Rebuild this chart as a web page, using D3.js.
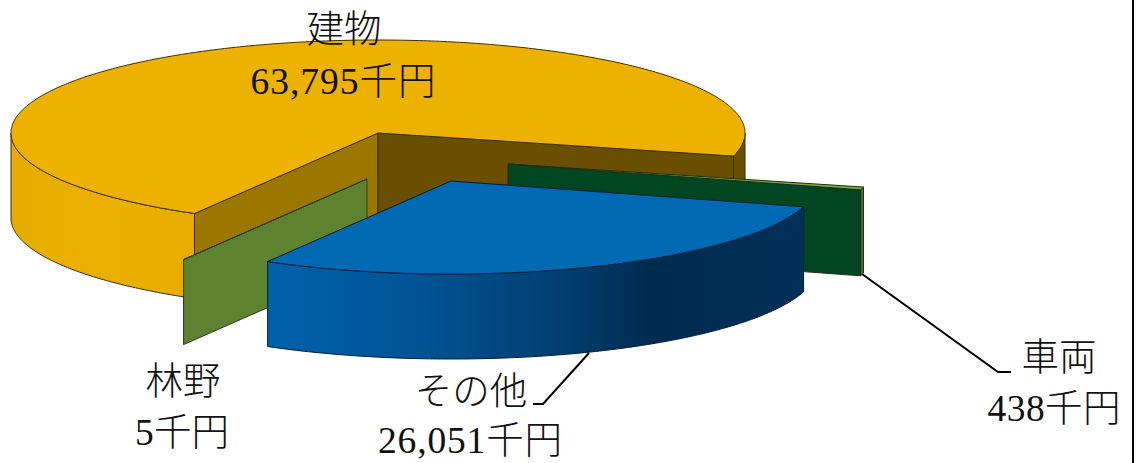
<!DOCTYPE html>
<html lang="ja">
<head>
<meta charset="utf-8">
<script src="https://cdn.jsdelivr.net/npm/d3@7"></script>
<style>
  html, body { margin: 0; padding: 0; background: #fff; }
  svg { display: block; }
  text { font-family: "Liberation Serif", "Noto Sans CJK JP", serif; font-size: 37.5px; font-weight: 300; fill: #111; }
</style>
</head>
<body>
<svg id="chart" width="1140" height="463"></svg>
<script>
// Values in 千円
const categories = ["建物", "車両", "その他", "林野"];
const values = [63795, 438, 26051, 5];
const valueLabels = ["63,795千円", "438千円", "26,051千円", "5千円"];

// Ellipse that the flat pie projects onto
const cx = 378, cy = 133, rx = 367, ry = 93;
const firstSliceAngle = 210;

// Per-slice drawing settings, in category order
const sliceOffset = [[0, 0], [130, 31], [73, 48], [-11, 46]];
const sliceDepth = [85, 86, 85, 85];
const topFill = ["#edb100", "#72ad47", "#0069b4", "#5d8330"];
const startFace = ["#9c7700", "#004620", "#00355f", "#5d8330"];
const endFace = ["#6a4f00", "#004620", "#00355f", "#5d8330"];
const edgeStroke = ["#3d2e00", "#1f2f14", "#001f3a", "#2c3e18"];
const rimFill = ["url(#rimGold)", "#566f3c", "url(#rimBlue)", "#5d8330"];
const drawOrder = [0, 1, 3, 2];

const labelPlacement = [
  { name: [344, 33], value: [343, 85], width: 185 },
  { name: [1059, 361], value: [1054, 412], width: 133 },
  { name: [471, 395], value: [470, 444], width: 184 },
  { name: [183, 385], value: [182, 436], width: 94 }
];
const leaderLines = [
  [[862, 274], [998, 372], [1011, 372]],
  [[589, 353], [543, 404], [533, 404]]
];

const svg = d3.select("#chart");
const defs = svg.append("defs");

function addRimGradient(id, x1, x2, stops) {
  const g = defs.append("linearGradient")
    .attr("id", id).attr("gradientUnits", "userSpaceOnUse")
    .attr("x1", x1).attr("x2", x2).attr("y1", 0).attr("y2", 0);
  stops.forEach(([o, c]) => g.append("stop").attr("offset", o).attr("stop-color", c));
}
addRimGradient("rimGold", 11, 745, [
  [0, "#e5ab00"], [0.1, "#ebb000"], [0.24, "#e7ad00"], [0.3, "#e0a700"],
  [0.97, "#6a4f00"], [1, "#6a4f00"]
]);
addRimGradient("rimBlue", 265, 803, [
  [0, "#0062aa"], [0.3, "#005292"], [0.55, "#003f70"], [0.72, "#002b50"], [1, "#003058"]
]);

const pie = d3.pie().sort(null).value(d => d)
  .startAngle(firstSliceAngle * Math.PI / 180)
  .endAngle((firstSliceAngle + 360) * Math.PI / 180);
const arcs = pie(values);

// Clockwise angle from twelve o'clock to a point on the ellipse, relative to the slice apex
const rimX = d3.scaleLinear().domain([-1, 1]).range([-rx, rx]);
const rimY = d3.scaleLinear().domain([-1, 1]).range([-ry, ry]);
const onRim = (a, ox, oy, dz = 0) => [cx + ox + rimX(Math.sin(a)), cy + oy + rimY(-Math.cos(a)) + dz];
const line = d3.line();

function sweep(a0, a1) {
  const n = Math.max(2, Math.ceil(Math.abs(a1 - a0) * 90));
  return d3.range(n + 1).map(i => a0 + (a1 - a0) * i / n);
}

function drawSlice(i) {
  const arc = arcs[i];
  const [ox, oy] = sliceOffset[i];
  const depth = sliceDepth[i];
  const stroke = edgeStroke[i];
  const apex = [cx + ox, cy + oy];
  const g = svg.append("g").attr("class", "slice").attr("data-name", categories[i]);
  const tau = 2 * Math.PI;

  // Outer wall: only the part of the rim on the near half of the ellipse
  const nearSpans = [[Math.PI / 2, 3 * Math.PI / 2], [Math.PI / 2 + tau, 3 * Math.PI / 2 + tau]];
  nearSpans.forEach(([lo, hi]) => {
    const a0 = Math.max(arc.startAngle, lo), a1 = Math.min(arc.endAngle, hi);
    if (a1 <= a0) return;
    const angles = sweep(a0, a1);
    const top = angles.map(a => onRim(a, ox, oy));
    const bottom = angles.slice().reverse().map(a => onRim(a, ox, oy, depth));
    g.append("path").attr("d", line(top.concat(bottom)) + "Z")
      .attr("fill", rimFill[i]).attr("stroke", stroke).attr("stroke-width", 1);
  });

  // Cut faces that turn toward the viewer
  const face = (a, fill) => {
    const p = onRim(a, ox, oy);
    g.append("path")
      .attr("d", line([apex, p, [p[0], p[1] + depth], [apex[0], apex[1] + depth]]) + "Z")
      .attr("fill", fill).attr("stroke", stroke).attr("stroke-width", 1);
  };
  if (Math.sin(arc.startAngle) < 0) face(arc.startAngle, startFace[i]);
  if (Math.sin(arc.endAngle) > 0) face(arc.endAngle, endFace[i]);

  // Top surface
  const outline = [apex].concat(sweep(arc.startAngle, arc.endAngle).map(a => onRim(a, ox, oy)));
  g.append("path").attr("d", line(outline) + "Z")
    .attr("fill", topFill[i]).attr("stroke", stroke).attr("stroke-width", 1)
    .attr("stroke-linejoin", "round");
}

// Leader lines run under the slices and end at their edges
svg.append("g").selectAll("path").data(leaderLines).join("path")
  .attr("d", line).attr("fill", "none").attr("stroke", "#000").attr("stroke-width", 2);

drawOrder.forEach(drawSlice);

// Data labels
const labels = svg.append("g").selectAll("g").data(categories).join("g");
labels.append("text")
  .attr("x", (d, i) => labelPlacement[i].name[0])
  .attr("y", (d, i) => labelPlacement[i].name[1])
  .attr("text-anchor", "middle").attr("dominant-baseline", "middle")
  .text(d => d);
labels.append("text")
  .attr("x", (d, i) => labelPlacement[i].value[0])
  .attr("y", (d, i) => labelPlacement[i].value[1])
  .attr("text-anchor", "middle").attr("dominant-baseline", "middle")
  .attr("textLength", (d, i) => labelPlacement[i].width)
  .attr("lengthAdjust", "spacing")
  .text((d, i) => valueLabels[i]);

// Frame edge on the right
svg.append("line").attr("x1", 1133).attr("x2", 1133).attr("y1", 0).attr("y2", 463)
  .attr("stroke", "#000").attr("stroke-width", 2);
</script>
</body>
</html>
